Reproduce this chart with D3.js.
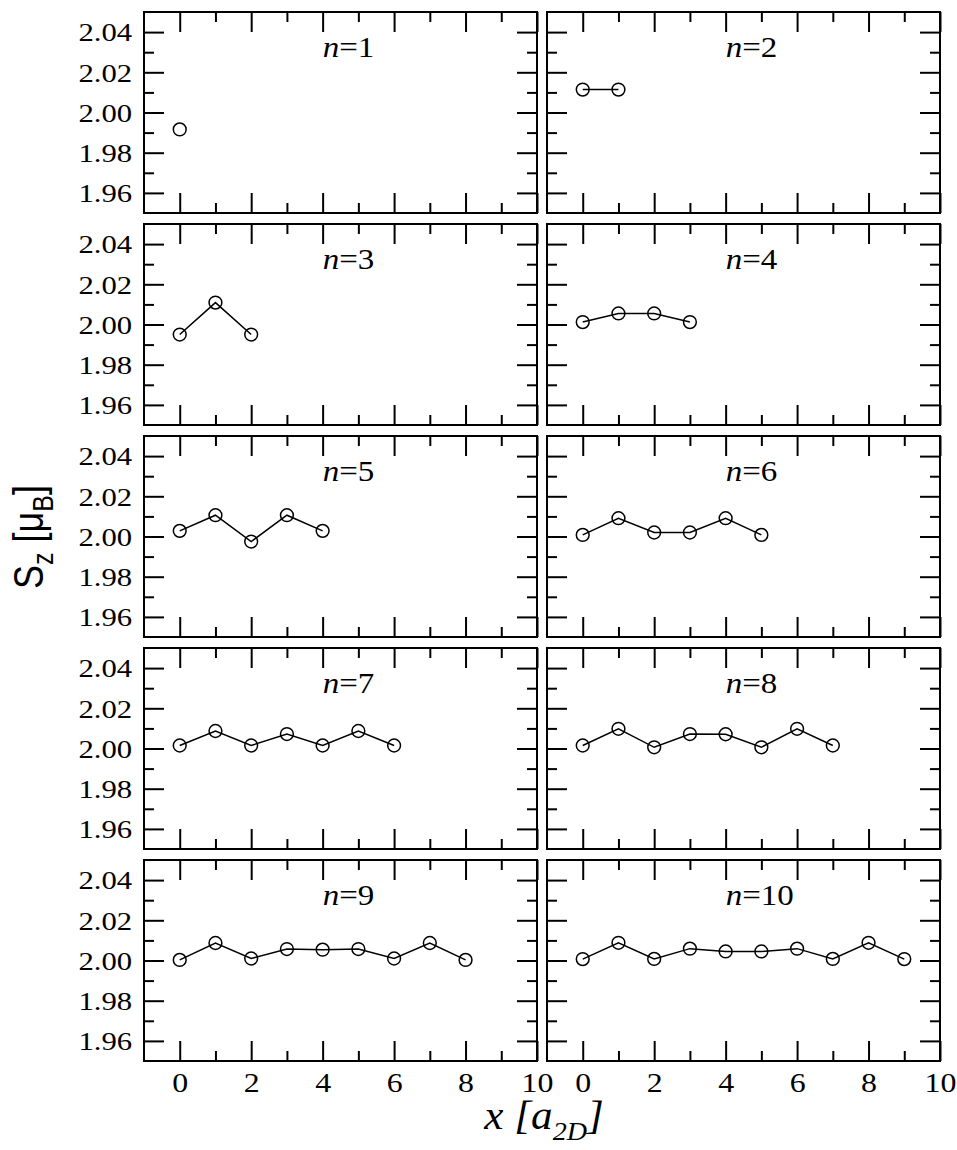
<!DOCTYPE html>
<html><head><meta charset="utf-8">
<script src="https://cdn.jsdelivr.net/npm/d3@7"></script>
<style>body{margin:0;background:#fff}</style>
</head><body>
<svg id="chart" width="957" height="1150"></svg>
<script>
// Data: S_z values at sites x = 0 .. n-1 for each n
const sz1  = [1.9916];
const sz2  = [2.0114, 2.0114];
const sz3  = [1.9950, 2.0109, 1.9950];
const sz4  = [2.0012, 2.0055, 2.0055, 2.0012];
const sz5  = [2.0028, 2.0106, 1.9975, 2.0106, 2.0028];
const sz6  = [2.0008, 2.0091, 2.0020, 2.0020, 2.0091, 2.0008];
const sz7  = [2.0015, 2.0087, 2.0015, 2.0072, 2.0015, 2.0087, 2.0015];
const sz8  = [2.0015, 2.0098, 2.0006, 2.0072, 2.0071, 2.0006, 2.0098, 2.0015];
const sz9  = [2.0003, 2.0087, 2.0010, 2.0057, 2.0054, 2.0057, 2.0010, 2.0087, 2.0003];
const sz10 = [2.0007, 2.0088, 2.0008, 2.0059, 2.0045, 2.0045, 2.0059, 2.0008, 2.0088, 2.0007];
const series = [sz1, sz2, sz3, sz4, sz5, sz6, sz7, sz8, sz9, sz10];
const panelLabels = ["1","2","3","4","5","6","7","8","9","10"];

const xMajor = [0, 2, 4, 6, 8, 10];
const xMinor = [1, 3, 5, 7, 9];
const yMajor = [1.96, 1.98, 2.00, 2.02, 2.04];
const yMinor = [1.97, 1.99, 2.01, 2.03];
const xDomain = [-1, 10];
const yDomain = [1.95, 2.05];

const svg = d3.select("#chart");
const colLeft = [144, 547];
const rowTop = [12, 224, 436, 648, 860];
const pw = 393, ph = 201;
const major = 20, minor = 10;
const serif = "'Liberation Serif','Times New Roman',serif";
const sx = 1.18;

series.forEach((vals, i) => {
  const col = i % 2, row = Math.floor(i / 2);
  const x0 = colLeft[col], y0 = rowTop[row];
  const x = d3.scaleLinear().domain(xDomain).range([0, pw]);
  const y = d3.scaleLinear().domain(yDomain).range([ph, 0]);
  const g = svg.append("g").attr("transform", `translate(${x0},${y0})`);

  function styleAxis(sel) {
    sel.select(".domain").remove();
    sel.selectAll(".tick line").attr("stroke", "#000").attr("stroke-width", 2);
    sel.selectAll(".tick text").attr("fill", "#000");
  }

  // left
  const left = g.append("g").call(d3.axisLeft(y).tickValues(yMajor).tickSize(-major).tickPadding(10)
      .tickFormat(col === 0 ? d3.format(".2f") : () => ""));
  styleAxis(left);
  left.selectAll(".tick text").attr("font-family", serif).attr("font-size", 26)
      .attr("dy", "0.34em").attr("transform", `scale(${sx},1)`);
  styleAxis(g.append("g").call(d3.axisLeft(y).tickValues(yMinor).tickSize(-minor).tickFormat(() => "")));
  // right
  styleAxis(g.append("g").attr("transform", `translate(${pw},0)`)
      .call(d3.axisRight(y).tickValues(yMajor).tickSize(-major).tickFormat(() => "")));
  styleAxis(g.append("g").attr("transform", `translate(${pw},0)`)
      .call(d3.axisRight(y).tickValues(yMinor).tickSize(-minor).tickFormat(() => "")));
  // top
  styleAxis(g.append("g").call(d3.axisTop(x).tickValues(xMajor).tickSize(-major).tickFormat(() => "")));
  styleAxis(g.append("g").call(d3.axisTop(x).tickValues(xMinor).tickSize(-minor).tickFormat(() => "")));
  // bottom
  const bottom = g.append("g").attr("transform", `translate(0,${ph})`)
      .call(d3.axisBottom(x).tickValues(xMajor).tickSize(-major).tickPadding(12)
      .tickFormat(row === 4 ? d3.format("d") : () => ""));
  styleAxis(bottom);
  bottom.selectAll(".tick text").attr("font-family", serif).attr("font-size", 27)
      .attr("dy", "0.71em").attr("transform", `scale(${sx},1)`);
  styleAxis(g.append("g").attr("transform", `translate(0,${ph})`)
      .call(d3.axisBottom(x).tickValues(xMinor).tickSize(-minor).tickFormat(() => "")));

  // frame
  g.append("rect").attr("x", 0).attr("y", 0).attr("width", pw).attr("height", ph)
    .attr("fill", "none").attr("stroke", "#000").attr("stroke-width", 2);

  // line + circles
  const pts = vals.map((v, k) => [k, v]);
  g.append("path").datum(pts)
    .attr("d", d3.line().x(d => x(d[0])).y(d => y(d[1])))
    .attr("fill", "none").attr("stroke", "#000").attr("stroke-width", 1.5);
  g.selectAll("circle.pt").data(pts).join("circle").attr("class", "pt")
    .attr("cx", d => x(d[0])).attr("cy", d => y(d[1])).attr("r", 6.4)
    .attr("fill", "none").attr("stroke", "#000").attr("stroke-width", 1.5);

  // panel label
  const t = g.append("text").attr("transform", `translate(${x(4)},45) scale(1.1,1)`)
    .attr("font-family", serif).attr("font-size", 30).attr("fill", "#000");
  t.append("tspan").attr("font-style", "italic").text("n");
  t.append("tspan").text("=" + panelLabels[i]);
});

// y axis title
const yt = svg.append("text")
  .attr("transform", "translate(43,537) scale(1.2,1) rotate(-90)")
  .attr("text-anchor", "middle")
  .attr("font-family", "'Liberation Sans',Arial,sans-serif").attr("font-size", 36).attr("fill", "#000");
yt.append("tspan").text("S");
yt.append("tspan").attr("font-size", 25).attr("dy", 8).text("z");
yt.append("tspan").attr("dy", -8).text(" [\u03bc");
yt.append("tspan").attr("font-size", 25).attr("dy", 8).text("B");
yt.append("tspan").attr("dy", -8).text("]");

// x axis title
const xt = svg.append("text")
  .attr("transform", "translate(544,1129) scale(1.08,1)")
  .attr("text-anchor", "middle")
  .attr("font-family", serif).attr("font-style", "italic").attr("font-size", 40).attr("fill", "#000");
xt.append("tspan").text("x [a");
xt.append("tspan").attr("font-size", 26).attr("dy", 11).text("2D");
xt.append("tspan").attr("dy", -11).text("]");
</script>
</body></html>
